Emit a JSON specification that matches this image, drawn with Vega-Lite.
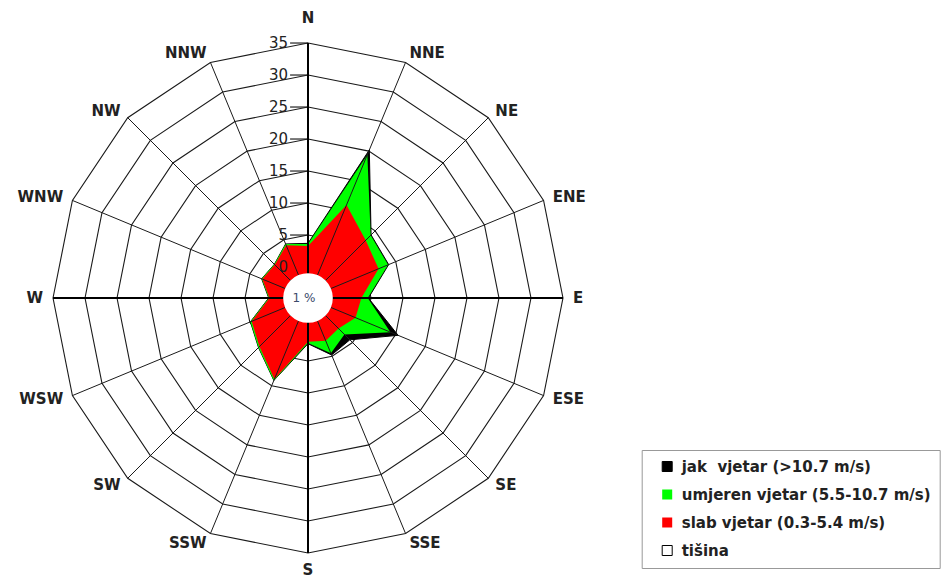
{
  "$schema": "https://vega.github.io/schema/vega-lite/v6.json",
  "width": 563.2,
  "height": 563.2,
  "autosize": "none",
  "padding": {"left": 26.4, "top": 16.4, "right": 359.4, "bottom": 0.4},
  "background": "white",
  "config": {"view": {"stroke": null}, "font": "DejaVu Sans"},
  "datasets": {
    "winds": [
      {"smjer": "N", "i": 0, "slab": 3.3, "umjeren": 0.3, "jak": 0.1},
      {"smjer": "NNE", "i": 1, "slab": 10.9, "umjeren": 8.5, "jak": 0.8},
      {"smjer": "NE", "i": 2, "slab": 7.9, "umjeren": 1.1, "jak": 0.1},
      {"smjer": "ENE", "i": 3, "slab": 7.1, "umjeren": 1.6, "jak": 0.1},
      {"smjer": "E", "i": 4, "slab": 3.5, "umjeren": 1.0, "jak": 0.1},
      {"smjer": "ESE", "i": 5, "slab": 3.2, "umjeren": 5.9, "jak": 1.3},
      {"smjer": "SE", "i": 6, "slab": 1.9, "umjeren": 1.3, "jak": 1.2},
      {"smjer": "SSE", "i": 7, "slab": 2.4, "umjeren": 2.1, "jak": 0.3},
      {"smjer": "S", "i": 8, "slab": 2.0, "umjeren": 0.2, "jak": 0.1},
      {"smjer": "SSW", "i": 9, "slab": 8.9, "umjeren": 0.2, "jak": 0.0},
      {"smjer": "SW", "i": 10, "slab": 5.9, "umjeren": 0.2, "jak": 0.0},
      {"smjer": "WSW", "i": 11, "slab": 4.7, "umjeren": 0.2, "jak": 0.0},
      {"smjer": "W", "i": 12, "slab": 1.2, "umjeren": 0.1, "jak": 0.0},
      {"smjer": "WNW", "i": 13, "slab": 2.9, "umjeren": 0.1, "jak": 0.0},
      {"smjer": "NW", "i": 14, "slab": 2.5, "umjeren": 0.1, "jak": 0.0},
      {"smjer": "NNW", "i": 15, "slab": 4.1, "umjeren": 0.2, "jak": 0.0}
    ],
    "ticks": [
      {"v": 0}, {"v": 5}, {"v": 10}, {"v": 15}, {"v": 20}, {"v": 25}, {"v": 30}, {"v": 35}
    ],
    "calm": [{"tisina": "1 %"}]
  },
  "layer": [
    {
      "data": {"name": "ticks"},
      "transform": [{"calculate": "datum.v + 4.84", "as": "rr"}, {"calculate": "0", "as": "c0"}],
      "mark": {"type": "point", "shape": "M0,-1L0.3827,-0.9239L0.7071,-0.7071L0.9239,-0.3827L1,0L0.9239,0.3827L0.7071,0.7071L0.3827,0.9239L0,1L-0.3827,0.9239L-0.7071,0.7071L-0.9239,0.3827L-1,0L-0.9239,-0.3827L-0.7071,-0.7071L-0.3827,-0.9239Z", "filled": false, "color": "#1a1a1a", "strokeWidth": 1.1, "opacity": 1},
      "encoding": {
        "x": {"field": "c0", "type": "quantitative", "scale": {"domain": [-44, 44], "nice": false, "zero": false}, "axis": null},
        "y": {"field": "c0", "type": "quantitative", "scale": {"domain": [-44, 44], "nice": false, "zero": false}, "axis": null},
        "size": {"field": "rr", "type": "quantitative", "scale": {"type": "pow", "exponent": 2, "domain": [0, 44], "range": [0, 317194]}, "legend": null}
      }
    },
    {
      "data": {"name": "ticks"},
      "transform": [{"calculate": "datum.v + 4.84", "as": "rr"}, {"calculate": "-2.8", "as": "t0"}, {"calculate": "0", "as": "t1"}],
      "mark": {"type": "rule", "color": "#222222", "strokeWidth": 1.2},
      "encoding": {
        "x": {"field": "t0", "type": "quantitative"},
        "x2": {"field": "t1"},
        "y": {"field": "rr", "type": "quantitative"}
      }
    },
    {
      "data": {"name": "winds"},
      "transform": [
        {"calculate": "4.84 + datum.slab + datum.umjeren + datum.jak", "as": "r"},
        {"calculate": "datum.r * sin(datum.i * PI / 8)", "as": "x"},
        {"calculate": "datum.r * cos(datum.i * PI / 8)", "as": "y"},
        {"calculate": "'jak\u00a0 vjetar (>10.7 m/s)'", "as": "cat"}
      ],
      "mark": {"type": "line", "filled": true, "interpolate": "linear-closed", "strokeWidth": 1},
      "encoding": {
        "x": {"field": "x", "type": "quantitative"},
        "y": {"field": "y", "type": "quantitative"},
        "order": {"field": "i", "type": "quantitative"},
        "color": {
          "field": "cat", "type": "nominal",
          "scale": {"domain": ["jak\u00a0 vjetar (>10.7 m/s)", "umjeren vjetar (5.5-10.7 m/s)", "slab vjetar (0.3-5.4 m/s)", "tišina"], "range": ["#000000", "#00ff00", "#ff0000", "#ffffff"]},
          "legend": {
            "title": null, "orient": "none", "legendX": 615.3, "legendY": 433.6,
            "symbolType": "square", "symbolSize": 100, "symbolOffset": 9, "symbolStrokeWidth": 1,
            "labelFont": "DejaVu Sans", "labelFontSize": 15, "labelFontWeight": "bold", "labelColor": "#222222",
            "labelOffset": 7, "labelLimit": 500, "strokeColor": "#999999", "padding": 9, "rowPadding": 12
          }
        },
        "stroke": {
          "field": "cat", "type": "nominal",
          "scale": {"domain": ["jak\u00a0 vjetar (>10.7 m/s)", "umjeren vjetar (5.5-10.7 m/s)", "slab vjetar (0.3-5.4 m/s)", "tišina"], "range": ["#000000", "transparent", "transparent", "#000000"]},
          "legend": {
            "title": null, "orient": "none", "legendX": 615.3, "legendY": 433.6,
            "symbolType": "square", "symbolSize": 100, "symbolOffset": 9, "symbolStrokeWidth": 1,
            "labelFont": "DejaVu Sans", "labelFontSize": 15, "labelFontWeight": "bold", "labelColor": "#222222",
            "labelOffset": 7, "labelLimit": 500, "strokeColor": "#999999", "padding": 9, "rowPadding": 12
          }
        }
      }
    },
    {
      "data": {"name": "winds"},
      "transform": [
        {"calculate": "4.84 + datum.slab + datum.umjeren", "as": "r"},
        {"calculate": "datum.r * sin(datum.i * PI / 8)", "as": "x"},
        {"calculate": "datum.r * cos(datum.i * PI / 8)", "as": "y"},
        {"calculate": "'umjeren vjetar (5.5-10.7 m/s)'", "as": "cat"}
      ],
      "mark": {"type": "line", "filled": true, "interpolate": "linear-closed", "strokeWidth": 1},
      "encoding": {
        "x": {"field": "x", "type": "quantitative"},
        "y": {"field": "y", "type": "quantitative"},
        "order": {"field": "i", "type": "quantitative"},
        "color": {"field": "cat", "type": "nominal"},
        "stroke": {"field": "cat", "type": "nominal"}
      }
    },
    {
      "data": {"name": "winds"},
      "transform": [
        {"calculate": "4.84 + datum.slab", "as": "r"},
        {"calculate": "datum.r * sin(datum.i * PI / 8)", "as": "x"},
        {"calculate": "datum.r * cos(datum.i * PI / 8)", "as": "y"},
        {"calculate": "'slab vjetar (0.3-5.4 m/s)'", "as": "cat"}
      ],
      "mark": {"type": "line", "filled": true, "interpolate": "linear-closed", "strokeWidth": 1},
      "encoding": {
        "x": {"field": "x", "type": "quantitative"},
        "y": {"field": "y", "type": "quantitative"},
        "order": {"field": "i", "type": "quantitative"},
        "color": {"field": "cat", "type": "nominal"},
        "stroke": {"field": "cat", "type": "nominal"}
      }
    },
    {
      "data": {"name": "winds"},
      "transform": [
        {"filter": "datum.i % 4 != 0"},
        {"calculate": "0", "as": "c0"},
        {"calculate": "39.84 * sin(datum.i * PI / 8)", "as": "xo"},
        {"calculate": "39.84 * cos(datum.i * PI / 8)", "as": "yo"}
      ],
      "mark": {"type": "rule", "color": "#1a1a1a", "strokeWidth": 1},
      "encoding": {
        "x": {"field": "c0", "type": "quantitative"},
        "y": {"field": "c0", "type": "quantitative"},
        "x2": {"field": "xo"},
        "y2": {"field": "yo"}
      }
    },
    {
      "data": {"name": "winds"},
      "transform": [
        {"filter": "datum.i % 4 == 0"},
        {"calculate": "0", "as": "c0"},
        {"calculate": "39.84 * sin(datum.i * PI / 8)", "as": "xo"},
        {"calculate": "39.84 * cos(datum.i * PI / 8)", "as": "yo"}
      ],
      "mark": {"type": "rule", "color": "#000000", "strokeWidth": 2},
      "encoding": {
        "x": {"field": "c0", "type": "quantitative"},
        "y": {"field": "c0", "type": "quantitative"},
        "x2": {"field": "xo"},
        "y2": {"field": "yo"}
      }
    },
    {
      "data": {"name": "calm"},
      "transform": [{"calculate": "0", "as": "c0"}],
      "mark": {"type": "point", "shape": "circle", "filled": true, "color": "#ffffff", "opacity": 1, "size": 2463, "strokeWidth": 0},
      "encoding": {
        "x": {"field": "c0", "type": "quantitative"},
        "y": {"field": "c0", "type": "quantitative"}
      }
    },
    {
      "data": {"name": "calm"},
      "transform": [{"calculate": "0", "as": "c0"}],
      "mark": {"type": "text", "font": "DejaVu Sans", "fontSize": 12, "color": "#3b4a6b", "dx": -4, "align": "center", "baseline": "middle"},
      "encoding": {
        "x": {"field": "c0", "type": "quantitative"},
        "y": {"field": "c0", "type": "quantitative"},
        "text": {"field": "tisina"}
      }
    },
    {
      "data": {"name": "ticks"},
      "transform": [{"calculate": "datum.v + 4.84", "as": "rr"}, {"calculate": "-3.1", "as": "lx"}],
      "mark": {"type": "text", "font": "DejaVu Sans", "fontSize": 15, "color": "#222222", "align": "right", "baseline": "middle"},
      "encoding": {
        "x": {"field": "lx", "type": "quantitative"},
        "y": {"field": "rr", "type": "quantitative"},
        "text": {"field": "v"}
      }
    },
    {
      "data": {"name": "winds"},
      "transform": [
        {"filter": "datum.i >= 1 && datum.i <= 7"},
        {"calculate": "41.4 * sin(datum.i * PI / 8)", "as": "lx"},
        {"calculate": "41.4 * cos(datum.i * PI / 8)", "as": "ly"}
      ],
      "mark": {"type": "text", "font": "DejaVu Sans", "fontSize": 15, "fontWeight": "bold", "color": "#222222", "align": "left", "baseline": "middle"},
      "encoding": {
        "x": {"field": "lx", "type": "quantitative"},
        "y": {"field": "ly", "type": "quantitative"},
        "text": {"field": "smjer"}
      }
    },
    {
      "data": {"name": "winds"},
      "transform": [
        {"filter": "datum.i >= 9"},
        {"calculate": "41.4 * sin(datum.i * PI / 8)", "as": "lx"},
        {"calculate": "41.4 * cos(datum.i * PI / 8)", "as": "ly"}
      ],
      "mark": {"type": "text", "font": "DejaVu Sans", "fontSize": 15, "fontWeight": "bold", "color": "#222222", "align": "right", "baseline": "middle"},
      "encoding": {
        "x": {"field": "lx", "type": "quantitative"},
        "y": {"field": "ly", "type": "quantitative"},
        "text": {"field": "smjer"}
      }
    },
    {
      "data": {"name": "winds"},
      "transform": [
        {"filter": "datum.i % 8 == 0"},
        {"calculate": "datum.i == 0 ? 43.7 : 42.5", "as": "lr"},
        {"calculate": "datum.lr * sin(datum.i * PI / 8)", "as": "lx"},
        {"calculate": "datum.lr * cos(datum.i * PI / 8)", "as": "ly"}
      ],
      "mark": {"type": "text", "font": "DejaVu Sans", "fontSize": 15, "fontWeight": "bold", "color": "#222222", "align": "center", "baseline": "middle"},
      "encoding": {
        "x": {"field": "lx", "type": "quantitative"},
        "y": {"field": "ly", "type": "quantitative"},
        "text": {"field": "smjer"}
      }
    }
  ]
}
